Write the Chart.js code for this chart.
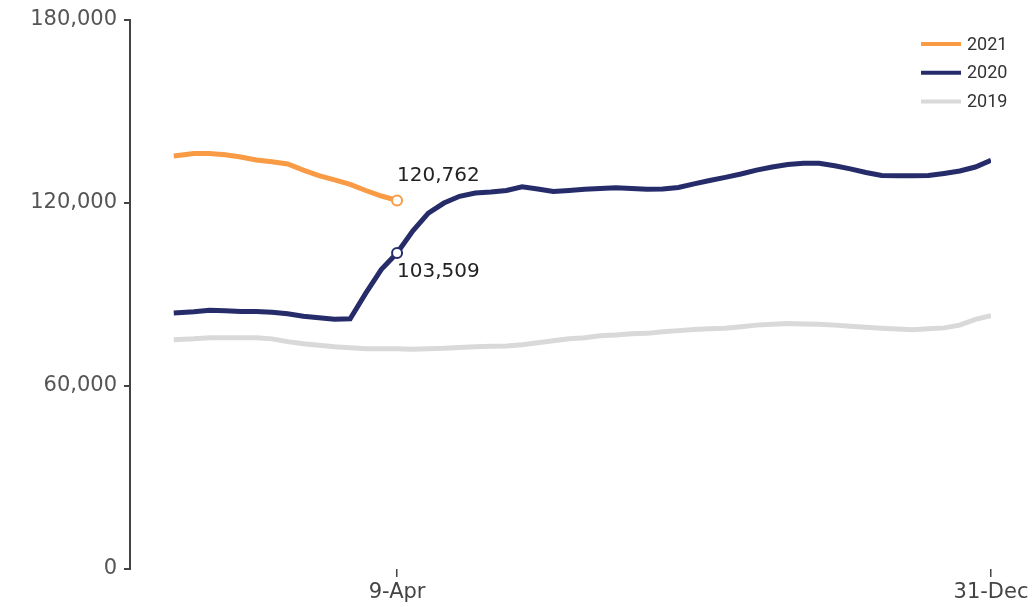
<!DOCTYPE html>
<html>
<head>
<meta charset="utf-8">
<script src="https://cdn.jsdelivr.net/npm/chart.js@4/dist/chart.umd.min.js"></script>
<style>
  body { margin: 0; background: #fff; }
  #chart { display: block; }
</style>
</head>
<body>
<canvas id="chart" width="1033" height="607"></canvas>
<script>
// weekly points, day of year (1 Jan = 0)
const days = [-1, 8, 15, 22, 29, 36, 43, 50, 57, 64, 71, 78, 85, 92, 99, 106, 113, 120, 127, 134,
  141, 148, 155, 162, 169, 176, 183, 190, 197, 204, 211, 218, 225, 232, 239, 246, 253, 260, 267,
  274, 281, 288, 295, 302, 309, 316, 323, 330, 337, 344, 351, 358, 365];

const seriesNames = ['2021', '2020', '2019'];

const values2021 = [135300, 136100, 136100, 135700, 135000, 134000, 133400, 132700, 130700, 128900,
  127500, 126000, 124000, 122200, 120762];

const values2020 = [83900, 84300, 84800, 84600, 84400, 84400, 84100, 83600, 82800, 82300,
  81800, 82000, 90400, 98200, 103509, 110700, 116600, 119900, 122100, 123200,
  123500, 124000, 125200, 124500, 123700, 124000, 124400, 124700, 124900, 124700,
  124400, 124500, 125000, 126200, 127300, 128300, 129400, 130700, 131700, 132500,
  132900, 132900, 132100, 131100, 129900, 128900, 128800, 128800, 128900, 129600,
  130400, 131700, 133900];

const values2019 = [75100, 75400, 75800, 75800, 75800, 75800, 75400, 74500, 73800, 73300,
  72800, 72500, 72200, 72200, 72200, 72000, 72200, 72300, 72600, 72800,
  73000, 73100, 73500, 74100, 74800, 75400, 75800, 76400, 76700, 77100,
  77200, 77700, 78100, 78500, 78700, 78900, 79400, 79900, 80200, 80400,
  80300, 80200, 79900, 79500, 79200, 78900, 78600, 78400, 78700, 79000,
  79900, 81800, 83000];

const tickDays = [99, 365];
const tickLabels = ['9-Apr', '31-Dec'];
const yTicks = [0, 60000, 120000, 180000];

// the two labelled points (index into the weekly arrays)
const markIndex = 14;

const colors = ['#F99B45', '#262C6A', '#D9D9D9'];
const fmt = v => Math.round(v).toLocaleString('en-US');

const toPoints = vals => vals.map((v, i) => ({ x: days[i], y: v }));

const lineDataset = (label, vals, color, marked) => ({
  label: label,
  data: toPoints(vals),
  borderColor: color,
  backgroundColor: color,
  borderWidth: 5,
  tension: 0,
  fill: false,
  pointRadius: ctx => (marked && ctx.dataIndex === markIndex ? 5 : 0),
  pointBorderWidth: 2,
  pointBorderColor: color,
  pointBackgroundColor: '#fff',
  pointHoverRadius: 0
});

const legendPlugin = {
  id: 'sideLegend',
  afterDraw(chart) {
    const ctx = chart.ctx;
    ctx.save();
    ctx.font = '18px Roboto, sans-serif';
    ctx.textBaseline = 'middle';
    ctx.textAlign = 'left';
    chart.data.datasets.forEach((ds, i) => {
      const y = 44 + i * 28.7;
      ctx.strokeStyle = ds.borderColor;
      ctx.lineWidth = 4;
      ctx.beginPath();
      ctx.moveTo(921, y);
      ctx.lineTo(961, y);
      ctx.stroke();
      ctx.fillStyle = '#333';
      ctx.fillText(ds.label, 967, y + 1);
    });
    ctx.restore();
  }
};

const valueLabels = {
  id: 'valueLabels',
  afterDatasetsDraw(chart) {
    const ctx = chart.ctx;
    ctx.save();
    ctx.font = '20px "DejaVu Sans", sans-serif';
    ctx.fillStyle = '#222';
    ctx.textAlign = 'left';
    ctx.textBaseline = 'middle';
    const p21 = chart.getDatasetMeta(0).data[markIndex];
    const p20 = chart.getDatasetMeta(1).data[markIndex];
    ctx.fillText(fmt(values2021[markIndex]), p21.x, p21.y - 25);
    ctx.fillText(fmt(values2020[markIndex]), p20.x, p20.y + 19);
    ctx.restore();
  }
};

new Chart(document.getElementById('chart').getContext('2d'), {
  type: 'line',
  data: {
    datasets: [
      lineDataset(seriesNames[0], values2021, colors[0], true),
      lineDataset(seriesNames[1], values2020, colors[1], true),
      lineDataset(seriesNames[2], values2019, colors[2], false)
    ]
  },
  options: {
    responsive: false,
    animation: false,
    devicePixelRatio: 1,
    layout: { padding: { top: 19, right: 42, left: 0, bottom: 0 } },
    plugins: {
      legend: { display: false },
      tooltip: { enabled: false }
    },
    scales: {
      x: {
        type: 'linear',
        min: -20.6,
        max: 365,
        afterBuildTicks: scale => { scale.ticks = tickDays.map(v => ({ value: v })); },
        afterFit: scale => { scale.height = 38; },
        border: { display: false },
        grid: { drawOnChartArea: false, drawTicks: true, tickLength: 8, color: '#444', lineWidth: 1.5 },
        ticks: {
          autoSkip: false,
          maxRotation: 0,
          padding: 3,
          color: '#444',
          font: { family: '"DejaVu Sans", sans-serif', size: 21 },
          callback: v => tickLabels[tickDays.indexOf(v)]
        }
      },
      y: {
        min: 0,
        max: 180000,
        afterBuildTicks: scale => { scale.ticks = yTicks.map(v => ({ value: v })); },
        afterFit: scale => { scale.width = 130; },
        border: { display: true, color: '#444', width: 2 },
        grid: { drawOnChartArea: false, drawTicks: true, tickLength: 6, color: '#444', lineWidth: 2 },
        ticks: {
          padding: 7,
          color: '#555',
          font: { family: '"DejaVu Sans", sans-serif', size: 21 },
          callback: v => fmt(v)
        }
      }
    }
  },
  plugins: [legendPlugin, valueLabels]
});
</script>
</body>
</html>
